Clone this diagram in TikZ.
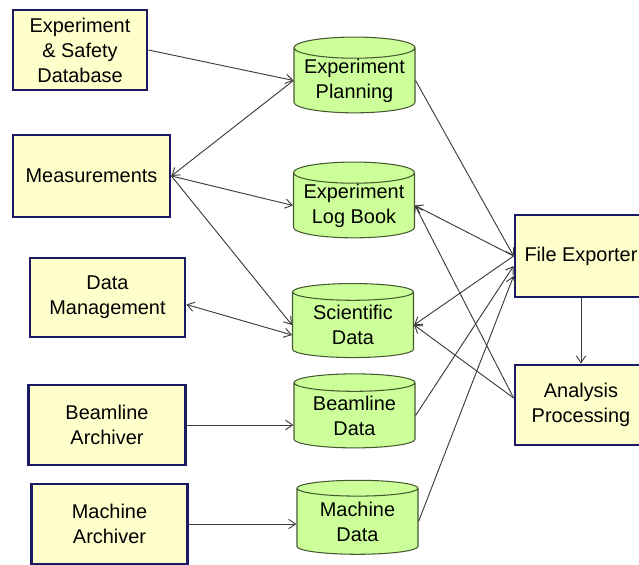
\documentclass[tikz,border=0pt]{standalone}
\usepackage{fontspec}
\setmainfont{Liberation Sans}
\usetikzlibrary{shapes.geometric,arrows.meta,calc}
\definecolor{boxfill}{RGB}{255,255,204}
\definecolor{boxline}{RGB}{25,25,100}
\definecolor{dbfill}{RGB}{204,255,153}
\definecolor{dbline}{RGB}{70,90,50}
\definecolor{wire}{RGB}{60,60,60}
\tikzset{
box/.style={draw=boxline, line width=2.4pt, fill=boxfill, align=center, inner sep=0pt},
db/.style={cylinder, shape border rotate=90, aspect=0.21, draw=dbline, line width=0.9pt,
  fill=dbfill, align=center, inner sep=0pt, minimum width=3.63cm, minimum height=2.22cm},
flow/.style={draw=wire, line width=0.8pt, -{Straight Barb[length=6pt,width=8pt]}},
both/.style={flow, {Straight Barb[length=6pt,width=8pt]}-{Straight Barb[length=6pt,width=8pt]}}
}
\begin{document}
\begin{tikzpicture}[x=0.03cm, y=-0.03cm, font=\fontsize{17}{21.3}\selectfont]
\useasboundingbox (0,0) rectangle (639,565);
\node[box, minimum width=4.02cm, minimum height=2.4cm] (esdb) at (80,50) {Experiment\\\& Safety\\Database};
\node[box, minimum width=4.71cm, minimum height=2.46cm] (meas) at (91.5,176) {Measurements};
\node[box, minimum width=4.65cm, minimum height=2.37cm] (dm) at (107.5,297.5) {Data\\Management};
\node[box, minimum width=4.71cm, minimum height=2.4cm] (ba) at (107,425) {Beamline\\Archiver};
\node[box, minimum width=4.68cm, minimum height=2.4cm] (ma) at (109.5,524) {Machine\\Archiver};
\node[box, minimum width=3.96cm, minimum height=2.46cm] (fe) at (581,256) {File Exporter};
\node[box, minimum width=3.96cm, minimum height=2.4cm] (ap) at (581,405) {Analysis\\Processing};
\node[db] (pl) at (354.5,80.5) {Experiment\\Planning};
\node[db] (lb) at (354,205.5) {Experiment\\Log Book};
\node[db] (sd) at (353,325) {Scientific\\Data};
\node[db] (bd) at (354.5,415.5) {Beamline\\Data};
\node[db] (md) at (357.5,521.5) {Machine\\Data};
\draw[flow] (esdb.east) -- (pl.west);
\draw[flow] (pl.west) -- (meas.east);
\draw[flow] (meas.east) -- (lb.west);
\draw[flow] (meas.east) -- (sd.west);
\draw[both] ($(dm.east)+(0,7)$) -- ($(sd.west)+(0,10)$);
\draw[flow] (ba.east) -- (ba.east -| bd.west);
\draw[flow] (ma.east) -- (ma.east -| md.west);
\draw[flow] (pl.east) -- (fe.west);
\draw[flow] (fe.west) -- (lb.east);
\draw[flow] (fe.west) -- (sd.east);
\draw[flow] ($(ap.west)+(0,-7)$) -- (lb.east);
\draw[flow] ($(ap.west)+(0,-7)$) -- (sd.east);
\draw[flow] (bd.east) -- ($(fe.west)+(0,10)$);
\draw[flow] (md.east) -- ($(fe.west)+(0,20)$);
\draw[flow] (fe) -- (ap);
\end{tikzpicture}
\end{document}
